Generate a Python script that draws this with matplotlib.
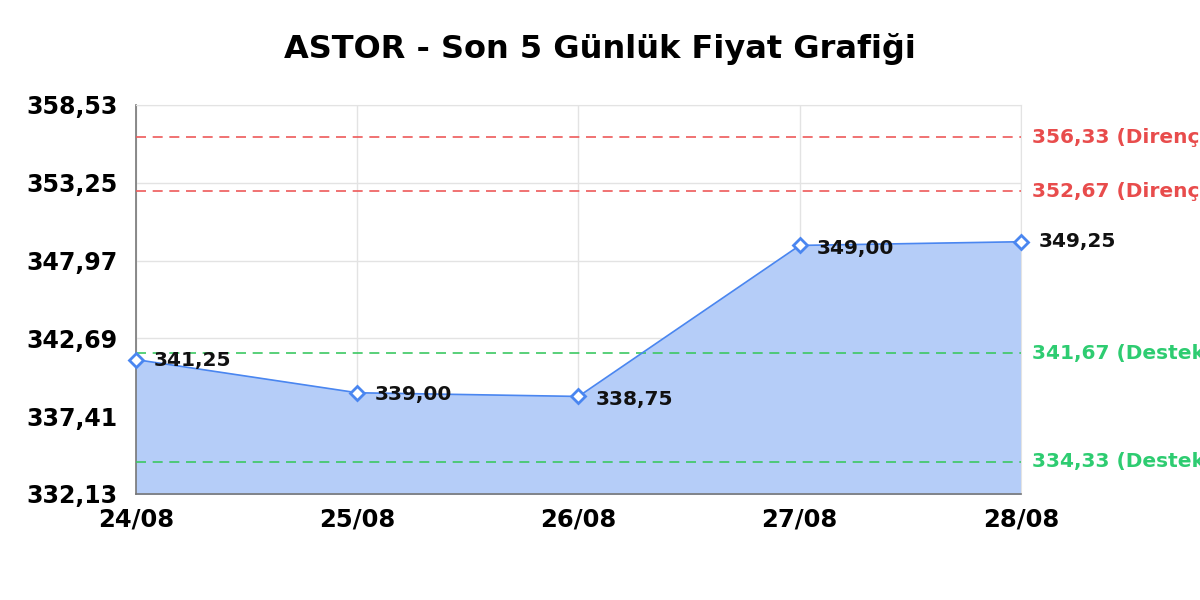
import numpy as np
import matplotlib
matplotlib.use('Agg')
import matplotlib.pyplot as plt

# data
dates = ['24/08', '25/08', '26/08', '27/08', '28/08']
prices = [341.25, 339.00, 338.75, 349.00, 349.25]
price_labels = ['341,25', '339,00', '338,75', '349,00', '349,25']
resistance = [356.33, 352.67]
support = [341.67, 334.33]
resistance_labels = ['356,33 (Direnç)', '352,67 (Direnç)']
support_labels = ['341,67 (Destek)', '334,33 (Destek)']
y_ticks = [332.13, 337.41, 342.69, 347.97, 353.25, 358.53]
y_tick_labels = ['332,13', '337,41', '342,69', '347,97', '353,25', '358,53']

plt.rcParams['font.family'] = 'DejaVu Sans'

fig = plt.figure(figsize=(12, 6), dpi=100)
ax = fig.add_axes([0.1133, 0.1767, 0.7375, 0.6483])

x = np.arange(len(dates))
ax.fill_between(x, prices, y_ticks[0], color='#b5cdf8', zorder=1)
ax.plot(x, prices, color='#4a86f0', linewidth=1.2, marker='D', markersize=7,
        markerfacecolor='white', markeredgecolor='#4a86f0', markeredgewidth=2,
        zorder=4, clip_on=False)

for lvl, lab in zip(resistance, resistance_labels):
    ax.axhline(lvl, color='#ee5a5a', linestyle=(0, (6, 4)), linewidth=1.2, zorder=3)
    ax.text(1.013, lvl, lab, transform=ax.get_yaxis_transform(), color='#e84c4c',
            fontsize=14.5, fontweight='bold', va='center', ha='left')
for lvl, lab in zip(support, support_labels):
    ax.axhline(lvl, color='#3cc862', linestyle=(0, (6, 4)), linewidth=1.2, zorder=3)
    ax.text(1.013, lvl, lab, transform=ax.get_yaxis_transform(), color='#2ecc71',
            fontsize=14.5, fontweight='bold', va='center', ha='left')

offsets = [-1, -1, -2.5, -2.5, 0]
for xi, p, lab, off in zip(x, prices, price_labels, offsets):
    ax.annotate(lab, (xi, p), xytext=(12.5, off), textcoords='offset points',
                fontsize=14.5, fontweight='bold', va='center', ha='left',
                color='#111111', zorder=5, annotation_clip=False)

ax.set_xlim(0, len(dates) - 1)
ax.set_ylim(y_ticks[0], y_ticks[-1])
ax.set_xticks(x)
ax.set_xticklabels(dates, fontsize=17.5, fontweight='bold')
ax.set_yticks(y_ticks)
ax.set_yticklabels(y_tick_labels, fontsize=17, fontweight='bold')
ax.tick_params(axis='y', length=0, pad=13)
ax.tick_params(axis='x', length=0, pad=10)

ax.grid(True, color='#e3e3e3', linewidth=1, zorder=0)
ax.set_axisbelow(True)
for s in ['top', 'right']:
    ax.spines[s].set_color('#e3e3e3')
for s in ['left', 'bottom']:
    ax.spines[s].set_color('#777777')
    ax.spines[s].set_linewidth(1.2)

fig.text(0.5, 0.918, 'ASTOR - Son 5 Günlük Fiyat Grafiği', fontsize=23,
         fontweight='bold', ha='center', va='center')

fig.savefig('out.png', dpi=100)
